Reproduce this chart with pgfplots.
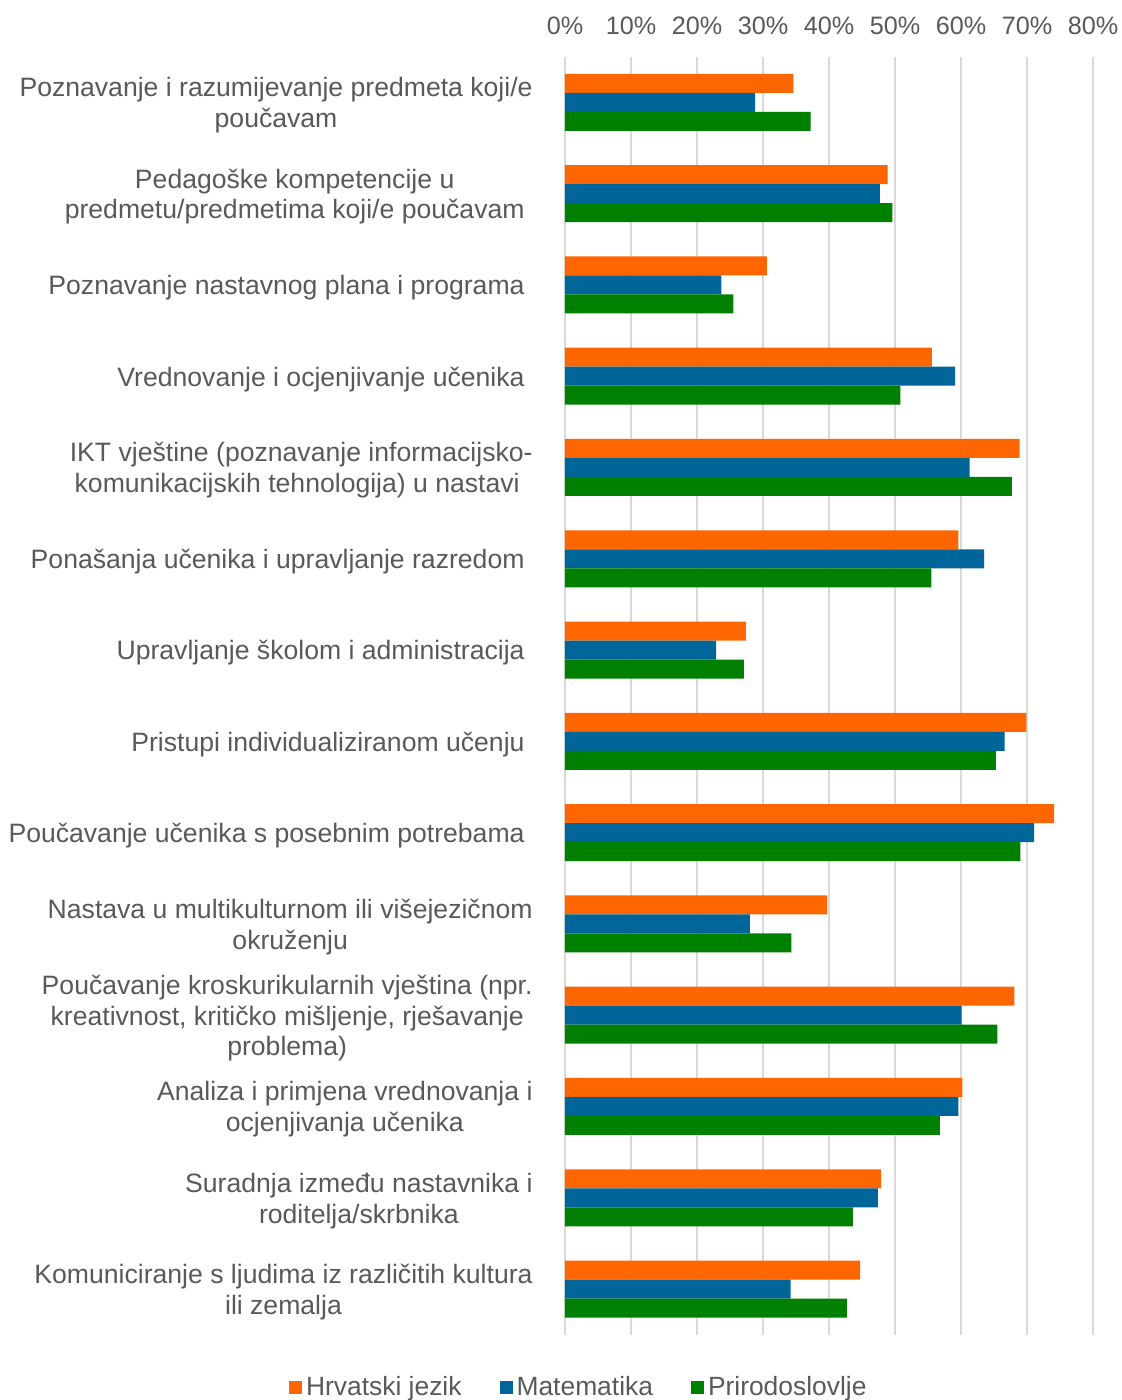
\documentclass[border=0pt]{standalone}
\usepackage{pgfplots}
\pgfplotsset{compat=1.18}
\usepackage{pgfplotstable}
\usepackage{fontspec}
\setmainfont{Liberation Sans}
\definecolor{hrorange}{HTML}{FF6600}
\definecolor{mablue}{HTML}{006699}
\definecolor{prgreen}{HTML}{008000}
\definecolor{textgray}{HTML}{595959}
\definecolor{gridgray}{HTML}{D9D9D9}
\pgfplotstableread{
y hr ma pr
13 34.6 28.8 37.2
12 48.9 47.7 49.6
11 30.6 23.7 25.5
10 55.6 59.1 50.8
9 68.9 61.3 67.7
8 59.6 63.5 55.5
7 27.4 22.9 27.1
6 69.9 66.6 65.3
5 74.1 71.1 69.0
4 39.7 28.0 34.3
3 68.1 60.1 65.5
2 60.2 59.6 56.8
1 47.9 47.4 43.6
0 44.7 34.2 42.7
}\data
\newcommand{\sq}{\hspace*{4pt}}
\begin{document}
\begin{tikzpicture}
\useasboundingbox (-282.5pt,-32.65pt) rectangle (278pt,667.35pt);
\begin{axis}[
  scale only axis,
  width=264pt, height=639pt,
  xmin=0, xmax=80,
  ymin=-0.5, ymax=13.5,
  axis line style={draw=none},
  major tick length=0pt,
  xtick={0,10,...,80},
  xticklabels={0\%,10\%,20\%,30\%,40\%,50\%,60\%,70\%,80\%},
  xticklabel pos=right,
  xmajorgrids,
  grid style={draw=gridgray, line width=1pt},
  ytick={0,...,13},
  yticklabels={
    {Komuniciranje s ljudima iz različitih kultura\\ili zemalja},
    {Suradnja između nastavnika i\\roditelja/skrbnika},
    {Analiza i primjena vrednovanja i\\ocjenjivanja učenika},
    {Poučavanje kroskurikularnih vještina (npr.\\kreativnost, kritičko mišljenje, rješavanje\\problema)},
    {Nastava u multikulturnom ili višejezičnom\\okruženju},
    {Poučavanje učenika s posebnim potrebama\sq},
    {Pristupi individualiziranom učenju\sq},
    {Upravljanje školom i administracija\sq},
    {Ponašanja učenika i upravljanje razredom\sq},
    {IKT vještine (poznavanje informacijsko-\\komunikacijskih tehnologija) u nastavi\sq},
    {Vrednovanje i ocjenjivanje učenika\sq},
    {Poznavanje nastavnog plana i programa\sq},
    {Pedagoške kompetencije u\sq\\predmetu/predmetima koji/e poučavam\sq},
    {Poznavanje i razumijevanje predmeta koji/e\\poučavam}
  },
  yticklabel style={font=\fontsize{13.3}{15.4}\selectfont, text=textgray, align=center, inner sep=0pt, xshift=-16pt, yshift=-1.5pt},
  xticklabel style={font=\fontsize{12.6}{15}\selectfont, text=textgray, inner sep=0pt, anchor=south, yshift=11pt},
  xbar, bar width=9.5pt,
  legend columns=3,
  legend style={draw=none, fill=none, at={(axis description cs:0.028,-0.041)}, anchor=center,
    font=\fontsize{13.2}{15}\selectfont, text=textgray, inner sep=0pt,
    /tikz/every even column/.append style={column sep=17pt}},
  legend image code/.code={\fill[#1] (0pt,-3.25pt) rectangle (6.5pt,3.25pt);},
]
\addplot[fill=hrorange, draw=none, bar shift=9.5pt] table[x=hr,y=y]{\data};
\addlegendentry{Hrvatski jezik}
\addplot[fill=mablue, draw=none, bar shift=0pt] table[x=ma,y=y]{\data};
\addlegendentry{Matematika}
\addplot[fill=prgreen, draw=none, bar shift=-9.5pt] table[x=pr,y=y]{\data};
\addlegendentry{Prirodoslovlje}
\end{axis}
\end{tikzpicture}
\end{document}
